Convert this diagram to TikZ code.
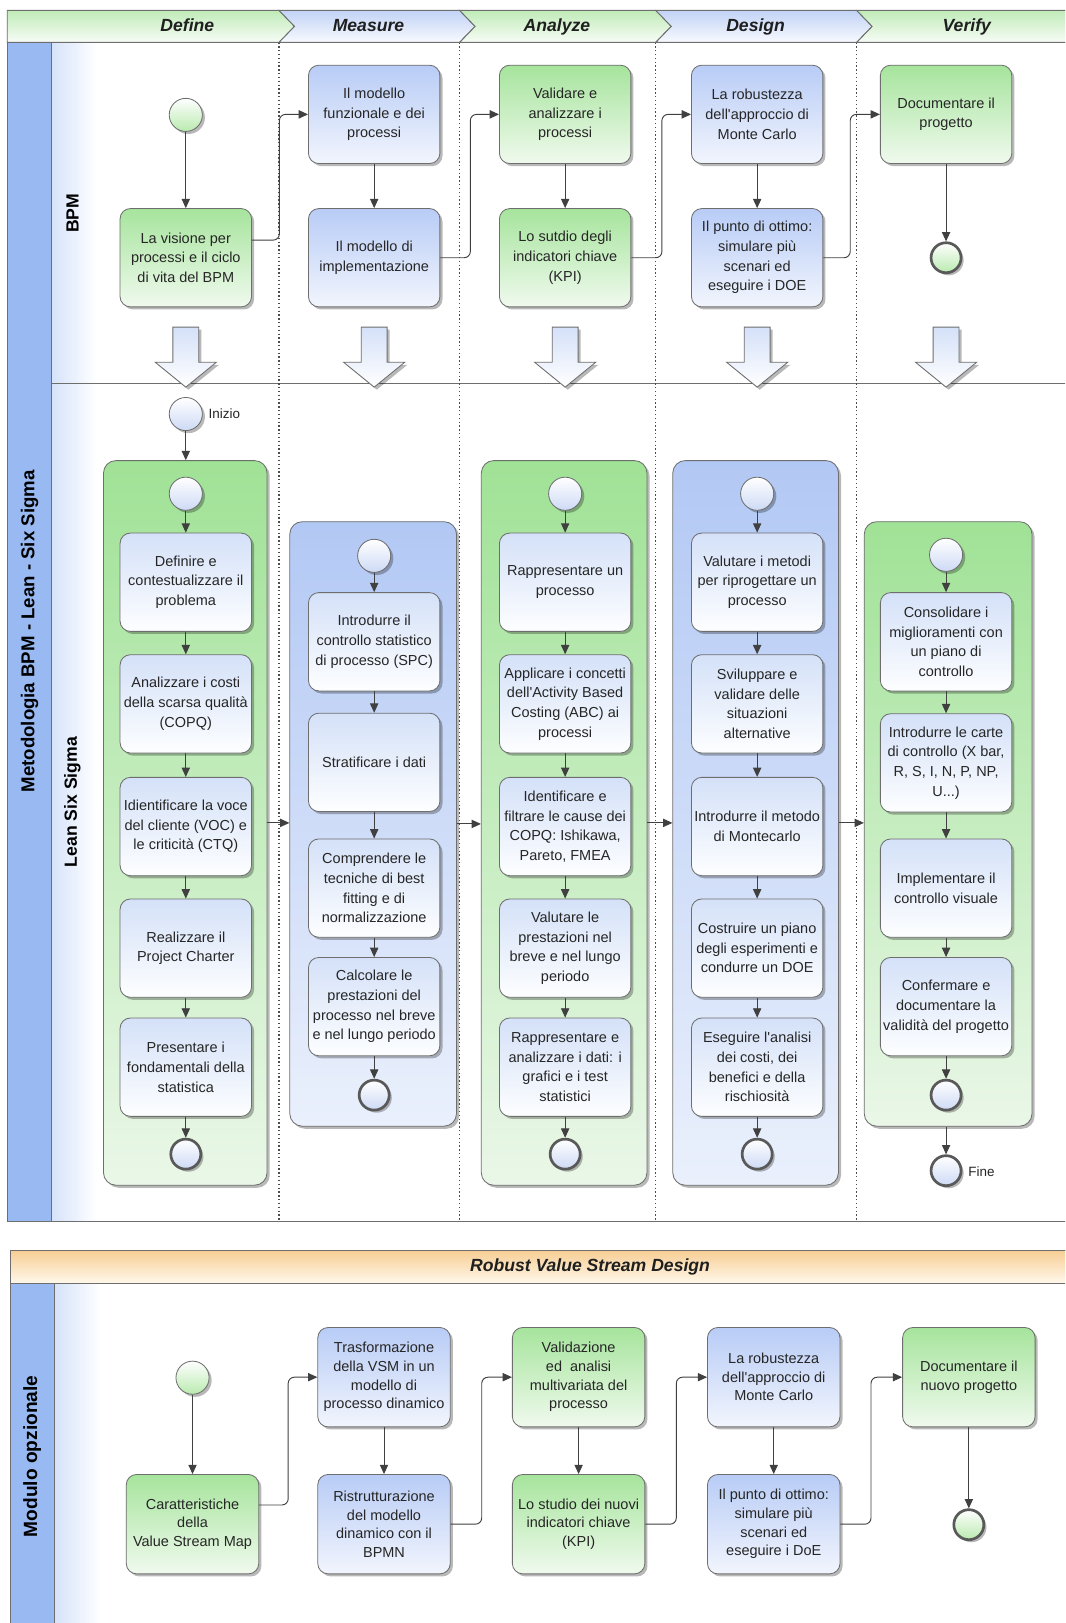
\documentclass[tikz,border=0pt]{standalone}
\usepackage{fontspec}
\setmainfont{Liberation Sans}[Ligatures=TeXOff]
\usetikzlibrary{arrows.meta,shadows,calc}
\definecolor{poolblue}{RGB}{152,185,242}
\definecolor{lanefade}{RGB}{214,227,250}
\definecolor{gtop}{RGB}{166,228,156}
\definecolor{gbot}{RGB}{240,250,238}
\definecolor{btop}{RGB}{184,204,246}
\definecolor{bbot}{RGB}{242,245,253}
\definecolor{grptop}{RGB}{160,226,150}
\definecolor{grpbot}{RGB}{234,247,232}
\definecolor{grpbtop}{RGB}{178,200,244}
\definecolor{grpbbot}{RGB}{234,240,252}
\definecolor{ttop}{RGB}{212,225,248}
\definecolor{tbot}{RGB}{253,254,255}
\definecolor{edge}{RGB}{110,110,110}
\definecolor{arr}{RGB}{64,64,64}
\definecolor{hdrg}{RGB}{192,235,184}
\definecolor{hdrb}{RGB}{194,211,246}
\definecolor{otop}{RGB}{247,206,148}
\definecolor{obot}{RGB}{255,248,236}
\definecolor{cgreen}{RGB}{185,234,175}
\definecolor{cblue}{RGB}{205,218,245}
\begin{document}
\begin{tikzpicture}[x=1pt,y=-1pt,
  flow/.style={draw=arr, line width=0.9pt, -{Triangle[length=9pt,width=8pt]}, rounded corners=6pt},
  shad/.style={drop shadow={shadow xshift=2.5pt,shadow yshift=-2.5pt,opacity=0.28,fill=black}},
  box/.style={shad, draw=edge, line width=0.8pt, rounded corners=10pt, minimum width=127pt, minimum height=95pt, inner sep=1pt, align=center, font=\fontsize{14}{19}\selectfont, text=black!85},
  gbox/.style={box, top color=gtop, bottom color=gbot},
  bbox/.style={box, top color=btop, bottom color=bbot},
  tbox/.style={box, top color=ttop, bottom color=tbot},
  gboxb/.style={gbox, minimum width=128pt, minimum height=96pt, font=\fontsize{14}{18}\selectfont},
  bboxb/.style={bbox, minimum width=128pt, minimum height=96pt, font=\fontsize{14}{18}\selectfont},
  startg/.style={shad, circle, minimum size=32pt, inner sep=0pt, draw=edge, line width=0.8pt, top color=white, bottom color=cgreen},
  endg/.style={shad, circle, minimum size=29pt, inner sep=0pt, draw=black!65, line width=2.6pt, top color=white, bottom color=cgreen},
  startb/.style={shad, circle, minimum size=32pt, inner sep=0pt, draw=edge, line width=0.8pt, top color=white, bottom color=cblue},
  endb/.style={shad, circle, minimum size=29pt, inner sep=0pt, draw=black!65, line width=2.6pt, top color=white, bottom color=cblue},
  grpg/.style={shad, draw=edge, line width=0.8pt, rounded corners=12pt, top color=grptop, bottom color=grpbot},
  grpb/.style={shad, draw=edge, line width=0.8pt, rounded corners=12pt, top color=grpbtop, bottom color=grpbbot},
  dotline/.style={draw=black!70, line width=1.1pt, dash pattern=on 1.3pt off 2.4pt},
  hdr/.style={font=\bfseries\itshape\fontsize{17}{17}\selectfont, text=black!88, text height=12.5pt, text depth=3.5pt, inner sep=0pt},
  lanelbl/.style={rotate=90, font=\bfseries\fontsize{17}{17}\selectfont, text=black},
  small/.style={font=\fontsize{13}{13}\selectfont, text=black!85}
]
\clip (0,0) rectangle (1029,1568);
\fill[white] (0,0) rectangle (1029,1568);

% ---------------- main pool ----------------
\fill[poolblue] (7,41) rectangle (50,1180);
\shade[left color=lanefade, right color=white] (50,41) rectangle (93,1180);
\draw[edge, line width=0.9pt] (50,41) -- (50,1180);
\draw[edge, line width=0.9pt] (50,370) -- (1040,370);
\draw[edge, line width=1pt] (7,41) rectangle (1040,1180);
\node[lanelbl, font=\bfseries\fontsize{18}{18}\selectfont] (pooltitle) at (28.5,610) {Metodologia BPM - Lean - Six Sigma};
\node[lanelbl] (lanebpm) at (70,206) {BPM};
\node[lanelbl] (lanelss) at (70,775) {Lean Six Sigma};

% dotted phase separators
\foreach \dx in {269.5,444,633.5,827.6} \draw[dotline] (\dx,41) -- (\dx,1180);

% ---------------- header chevrons ----------------
\path[draw=edge, line width=0.9pt, top color=hdrg, bottom color=hdrg!12!white]
  (7,10) -- (269.5,10) -- (284.5,25.5) -- (269.5,41) -- (7,41) -- cycle;
\path[draw=edge, line width=0.9pt, top color=hdrb, bottom color=hdrb!12!white]
  (269.5,10) -- (444,10) -- (459,25.5) -- (444,41) -- (269.5,41) -- (284.5,25.5) -- cycle;
\path[draw=edge, line width=0.9pt, top color=hdrg, bottom color=hdrg!12!white]
  (444,10) -- (633.5,10) -- (648.5,25.5) -- (633.5,41) -- (444,41) -- (459,25.5) -- cycle;
\path[draw=edge, line width=0.9pt, top color=hdrb, bottom color=hdrb!12!white]
  (633.5,10) -- (827.6,10) -- (842.6,25.5) -- (827.6,41) -- (633.5,41) -- (648.5,25.5) -- cycle;
\path[draw=edge, line width=0.9pt, top color=hdrg, bottom color=hdrg!12!white]
  (827.6,10) -- (1040,10) -- (1040,41) -- (827.6,41) -- (842.6,25.5) -- cycle;
\node[hdr] (hdefine) at (181,25.5) {Define};
\node[hdr] (hmeasure) at (356,25.5) {Measure};
\node[hdr] (hanalyze) at (538,25.5) {Analyze};
\node[hdr] (hdesign) at (730,25.5) {Design};
\node[hdr] (hverify) at (934,25.5) {Verify};

% ---------------- big hollow arrows ----------------
\foreach \cx in {179.5,361.5,546,731.5,914} {
  \path[shad, draw=edge, line width=0.8pt, top color=ttop, bottom color=white]
    ({\cx-12.5},316) -- ({\cx+12.5},316) -- ({\cx+12.5},350) -- ({\cx+29.5},350)
    -- (\cx,374) -- ({\cx-29.5},350) -- ({\cx-12.5},350) -- cycle;
}

% ---------------- BPM lane ----------------
\node[startg] (s0) at (179.5,111) {};
\node[gbox] (b1) at (179.5,249) {La visione per\\processi e il ciclo\\di vita del BPM};
\node[bbox] (b2) at (361.5,110.5) {Il modello\\funzionale e dei\\processi};
\node[bbox] (b3) at (361.5,249) {Il modello di\\implementazione};
\node[gbox] (b4) at (546,110.5) {Validare e\\analizzare i\\processi};
\node[gbox] (b5) at (546,249) {Lo sutdio degli\\indicatori chiave\\(KPI)};
\node[bbox] (b6) at (731.5,110.5) {La robustezza\\dell'approccio di\\Monte Carlo};
\node[bbox] (b7) at (731.5,249) {Il punto di ottimo:\\simulare più\\scenari ed\\eseguire i DOE};
\node[gbox] (b8) at (914,110.5) {Documentare il\\progetto};
\node[endg] (e0) at (914,249) {};

\draw[flow] (s0) -- (b1);
\draw[flow] ([yshift=17pt]b1.east) -- ++(26.5,0) |- (b2.west);
\draw[flow] (b2) -- (b3);
\draw[flow] (b3.east) -- ++(29,0) |- (b4.west);
\draw[flow] (b4) -- (b5);
\draw[flow] (b5.east) -- ++(29.6,0) |- (b6.west);
\draw[flow] (b6) -- (b7);
\draw[flow] (b7.east) -- ++(26,0) |- (b8.west);
\draw[flow] (b8) -- (e0);

% ---------------- Lean Six Sigma lane ----------------
\node[grpg, minimum width=158pt, minimum height=700pt] (gD) at (179,795) {};
\node[grpb, minimum width=161pt, minimum height=584pt] (gM) at (360.5,796) {};
\node[grpg, minimum width=160pt, minimum height=700pt] (gA) at (545,795) {};
\node[grpb, minimum width=160pt, minimum height=700pt] (gS) at (730,795) {};
\node[grpg, minimum width=162pt, minimum height=584pt] (gV) at (916,796) {};

\node[startb] (ini) at (179.5,400) {};
\node[small, anchor=west] (lini) at (198,400) {Inizio};
\draw[flow] (ini) -- (ini |- gD.north);

% Define
\node[startb] (dS) at (179.5,477) {};
\node[tbox] (d1) at (179.5,562.5) {Definire e\\contestualizzare il\\problema};
\node[tbox] (d2) at (179.5,680) {Analizzare i costi\\della scarsa qualità\\(COPQ)};
\node[tbox] (d3) at (179.5,798.5) {Idientificare la voce\\del cliente (VOC) e\\le criticità (CTQ)};
\node[tbox] (d4) at (179.5,916) {Realizzare il\\Project Charter};
\node[tbox] (d5) at (179.5,1031) {Presentare i\\fondamentali della\\statistica};
\node[endb] (dE) at (179.5,1115) {};

% Measure
\node[startb] (mS) at (361.5,537) {};
\node[tbox] (m1) at (361.5,620) {Introdurre il\\controllo statistico\\di processo (SPC)};
\node[tbox] (m2) at (361.5,736.5) {Stratificare i dati};
\node[tbox] (m3) at (361.5,858) {Comprendere le\\tecniche di best\\fitting e di\\normalizzazione};
\node[tbox] (m4) at (361.5,972.5) {Calcolare le\\prestazioni del\\processo nel breve\\e nel lungo periodo};
\node[endb] (mE) at (361.5,1058) {};

% Analyze
\node[startb] (aS) at (546,477) {};
\node[tbox] (a1) at (546,562.5) {Rappresentare un\\processo};
\node[tbox] (a2) at (546,680) {Applicare i concetti\\dell'Activity Based\\Costing (ABC) ai\\processi};
\node[tbox] (a3) at (546,798.5) {Identificare e\\filtrare le cause dei\\COPQ: Ishikawa,\\Pareto, FMEA};
\node[tbox] (a4) at (546,916) {Valutare le\\prestazioni nel\\breve e nel lungo\\periodo};
\node[tbox] (a5) at (546,1031) {Rappresentare e\\analizzare i dati: i\\grafici e i test\\statistici};
\node[endb] (aE) at (546,1115) {};

% Design
\node[startb] (sS) at (731.5,477) {};
\node[tbox] (s1) at (731.5,562.5) {Valutare i metodi\\per riprogettare un\\processo};
\node[tbox] (s2) at (731.5,680) {Sviluppare e\\validare delle\\situazioni\\alternative};
\node[tbox] (s3) at (731.5,798.5) {Introdurre il metodo\\di Montecarlo};
\node[tbox] (s4) at (731.5,916) {Costruire un piano\\degli esperimenti e\\condurre un DOE};
\node[tbox] (s5) at (731.5,1031) {Eseguire l'analisi\\dei costi, dei\\benefici e della\\rischiosità};
\node[endb] (sE) at (731.5,1115) {};

% Verify
\node[startb] (vS) at (914,536) {};
\node[tbox] (v1) at (914,620) {Consolidare i\\miglioramenti con\\un piano di\\controllo};
\node[tbox] (v2) at (914,737) {Introdurre le carte\\di controllo (X bar,\\R, S, I, N, P, NP,\\U...)};
\node[tbox] (v3) at (914,858) {Implementare il\\controllo visuale};
\node[tbox] (v4) at (914,972.5) {Confermare e\\documentare la\\validità del progetto};
\node[endb] (vE) at (914,1058) {};
\node[endb] (fine) at (914,1131) {};
\node[small, anchor=west] (lfine) at (932,1132) {Fine};

\foreach \a/\b in {dS/d1,d1/d2,d2/d3,d3/d4,d4/d5,d5/dE,
                   mS/m1,m1/m2,m2/m3,m3/m4,m4/mE,
                   aS/a1,a1/a2,a2/a3,a3/a4,a4/a5,a5/aE,
                   sS/s1,s1/s2,s2/s3,s3/s4,s4/s5,s5/sE,
                   vS/v1,v1/v2,v2/v3,v3/v4,v4/vE}
  \draw[flow] (\a) -- (\b);
\draw[flow] (fine |- gV.south) -- (fine);
\draw[flow] (gD.east) -- (gD.east -| gM.west);
\draw[flow] (gM.east) -- (gM.east -| gA.west);
\draw[flow] (gA.east) -- (gA.east -| gS.west);
\draw[flow] (gS.east) -- (gS.east -| gV.west);

% ---------------- Modulo opzionale ----------------
\fill[poolblue] (10,1240) rectangle (53,1590);
\shade[left color=lanefade, right color=white] (53,1240) rectangle (97,1590);
\draw[edge, line width=0.9pt] (53,1240) -- (53,1590);
\path[draw=edge, line width=1pt, top color=otop, bottom color=obot] (10,1208) rectangle (1040,1240);
\draw[edge, line width=1pt] (10,1208) rectangle (1040,1590);
\node[hdr] (rvsd) at (570,1224) {Robust Value Stream Design};
\node[lanelbl, font=\bfseries\fontsize{18.5}{18.5}\selectfont] (modopt) at (31,1407) {Modulo opzionale};

\node[startg] (ps) at (186,1331) {};
\node[gboxb] (p1) at (186,1472.5) {Caratteristiche\\della\\Value Stream Map};
\node[bboxb] (p2) at (371,1330.5) {Trasformazione\\della VSM in un\\modello di\\processo dinamico};
\node[bboxb] (p3) at (371,1472.5) {Ristrutturazione\\del modello\\dinamico con il\\BPMN};
\node[gboxb] (p4) at (559,1330.5) {Validazione\\ed\ \ analisi\\multivariata del\\processo};
\node[gboxb] (p5) at (559,1472.5) {Lo studio dei nuovi\\indicatori chiave\\(KPI)};
\node[bboxb] (p6) at (747.5,1330.5) {La robustezza\\dell'approccio di\\Monte Carlo};
\node[bboxb] (p7) at (747.5,1472.5) {Il punto di ottimo:\\simulare più\\scenari ed\\eseguire i DoE};
\node[gboxb] (p8) at (936,1330.5) {Documentare il\\nuovo progetto};
\node[endg] (pe) at (936,1473) {};

\draw[flow] (ps) -- (p1);
\draw[flow] ([yshift=18.5pt]p1.east) -- ++(28,0) |- (p2.west);
\draw[flow] (p2) -- (p3);
\draw[flow] (p3.east) -- ++(30,0) |- (p4.west);
\draw[flow] (p4) -- (p5);
\draw[flow] (p5.east) -- ++(30,0) |- (p6.west);
\draw[flow] (p6) -- (p7);
\draw[flow] (p7.east) -- ++(29.6,0) |- (p8.west);
\draw[flow] (p8) -- (pe);
\end{tikzpicture}
\end{document}
